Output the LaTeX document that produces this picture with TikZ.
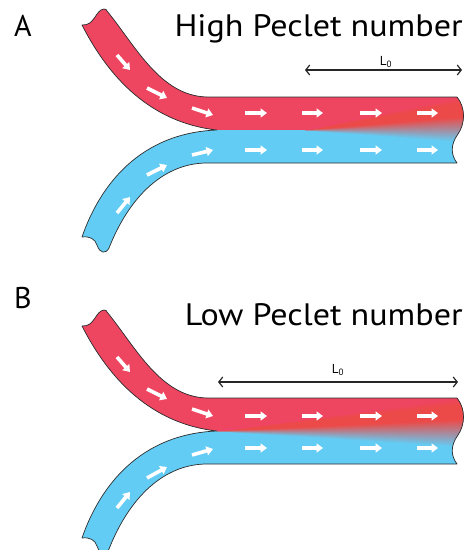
\documentclass[tikz,border=0pt]{standalone}
\usepackage{fontspec}
\setmainfont{PT Sans}
\newfontfamily\titlefont{PT Sans}[FakeStretch=1.1]
\usetikzlibrary{arrows.meta}
\definecolor{chred}{RGB}{238,69,96}
\definecolor{chorange}{RGB}{236,74,72}
\definecolor{chblue}{RGB}{99,204,244}
\definecolor{edgegray}{RGB}{45,45,45}
\pgfdeclareverticalshading{mixshade}{100bp}{color(0bp)=(chblue); color(27bp)=(chblue); color(54bp)=(chorange); color(68bp)=(chorange); color(75bp)=(chred); color(100bp)=(chred)}
\def\chpath{(82,25) .. controls (95,26) and (95,10) .. (104,9) .. controls (106,9) and (107,10) .. (107,11)
 .. controls (135,45) and (160,96) .. (207,97) -- (457,97)
 .. controls (466,108) and (465,124) .. (458,134)
 .. controls (450,145) and (451,155) .. (457,163)
 -- (207,163) .. controls (165,163) and (130,195) .. (109,248)
 .. controls (106,254) and (100,254) .. (97,245) .. controls (95,239) and (90,236) .. (82,237)
 .. controls (100,185) and (140,133) .. (217,130)
 .. controls (145,122) and (105,70) .. (82,25) -- cycle}
% #1 vertical offset, #2 apex x of the mixing wedge, #3 top y at end, #4 bottom y at end
\newcommand\mixchannel[4]{%
 \begin{scope}[shift={(0,#1)}]
  \begin{scope}
   \clip \chpath;
   \fill[chblue] (60,0) rectangle (471,260);
   \fill[chred] (60,0) rectangle (471,130);
   \foreach \k in {0,...,59}{%
     \pgfmathsetmacro\xa{#2+\k*(466-#2)/60}
     \pgfmathsetmacro\xb{\xa+(466-#2)/60+0.6}
     \pgfmathsetmacro\fr{((\xa+\xb)/2-#2)/(460-#2)}
     \pgfmathsetmacro\yt{130-(130-#3)*\fr}
     \pgfmathsetmacro\yb{130+(#4-130)*\fr}
     \shade[shading=mixshade] (\xa,\yt) rectangle (\xb,\yb);
   }
  \end{scope}
  \draw[outline] \chpath;
 \end{scope}}
\begin{document}
\begin{tikzpicture}[x=1pt,y=-1pt,
  outline/.style={draw=edgegray, line width=0.7pt, line join=round},
  flowarrow/.style={draw=white, line width=3.6pt, -{Triangle[length=6.5pt,width=9pt]}},
  span/.style={draw=black!85, line width=1.2pt, {Straight Barb[length=4pt,width=10pt]}-{Straight Barb[length=4pt,width=10pt]}},
  title/.style={font=\titlefont\fontsize{31}{31}\selectfont, inner sep=0pt},
  panellab/.style={font=\fontsize{30}{30}\selectfont, inner sep=0pt},
  lab/.style={font=\fontsize{13}{13}\selectfont, inner sep=0pt}]
\useasboundingbox (0,0) rectangle (471,550);

% ---------- Panel A ----------
\mixchannel{0}{305}{97}{144}
\foreach \a/\b in {{117,55}/{130,70},{147,88}/{167,98},{192,108}/{213,115},
  {245,113}/{267,113},{302,113}/{323,113},{360,113}/{382,113},{417,113}/{438,113},
  {117,213}/{130,197},{147,175}/{167,165},{192,155}/{213,150},
  {245,150}/{267,150},{302,150}/{323,150},{360,150}/{382,150},{417,150}/{438,150}}
  \draw[flowarrow] (\a) -- (\b);
\node[panellab, anchor=base west] (labA) at (14,36) {A};
\node[title, anchor=base east] (titleA) at (463,36) {High Peclet number};
\coordinate (LAl) at (305,70);
\coordinate (LAr) at (462,70);
\draw[span] (LAl) -- (LAr);
\node[lab, anchor=base] (L0A) at (386,65) {L\textsubscript{0}};

% ---------- Panel B ----------
\mixchannel{301}{217}{97}{148}
\foreach \a/\b in {{117,357}/{130,372},{147,389}/{167,399},{192,409}/{213,416},
  {245,416}/{267,416},{302,416}/{323,416},{360,416}/{382,416},{417,416}/{438,416},
  {117,508}/{130,492},{147,478}/{167,467},{192,455}/{213,449},
  {245,448}/{267,448},{302,448}/{323,448},{360,448}/{382,448},{417,448}/{438,448}}
  \draw[flowarrow] (\a) -- (\b);
\node[panellab, anchor=base west] (labB) at (14,308) {B};
\node[title, anchor=base east] (titleB) at (463,325) {Low Peclet number};
\coordinate (LBl) at (218,382);
\coordinate (LBr) at (458,382);
\draw[span] (LBl) -- (LBr);
\node[lab, anchor=base] (L0B) at (338,373) {L\textsubscript{0}};
\end{tikzpicture}
\end{document}
